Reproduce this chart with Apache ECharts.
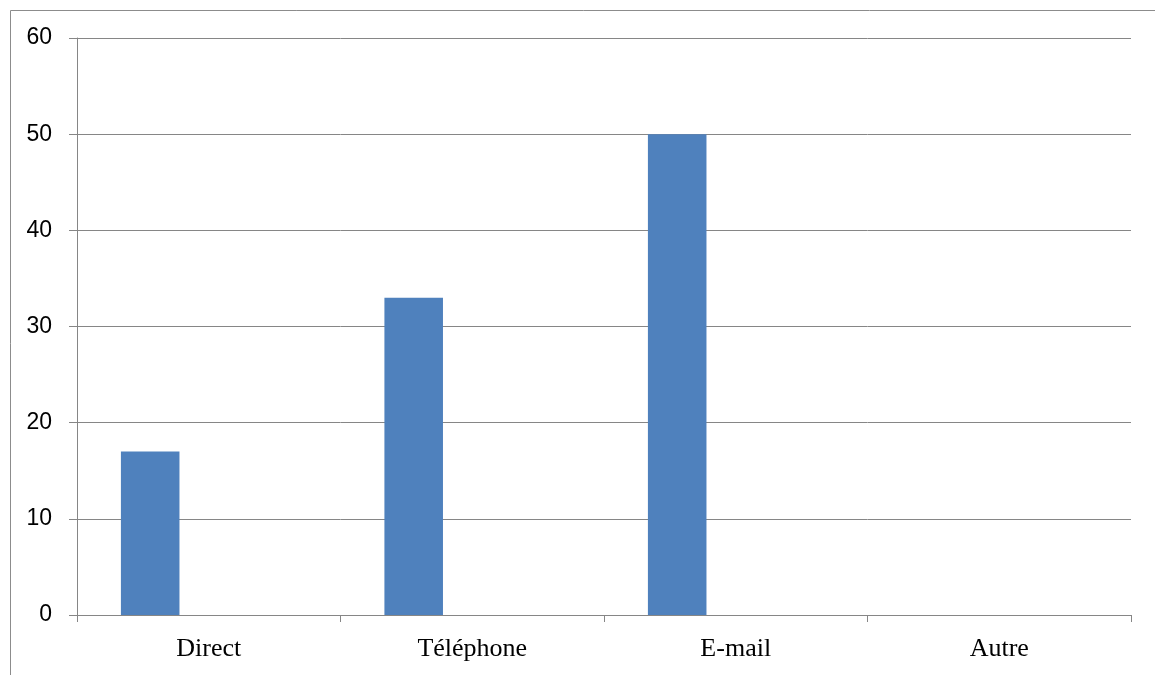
<!DOCTYPE html>
<html>
<head>
<meta charset="utf-8">
<style>
  html, body { margin: 0; padding: 0; background: #ffffff; }
  #chart { width: 1155px; height: 675px; }
</style>
<script src="https://cdn.jsdelivr.net/npm/echarts@6/dist/echarts.min.js"></script>
</head>
<body>
<div id="chart"></div>
<script>
// Contact channels and their counts
const categories = ['Direct', 'Téléphone', 'E-mail', 'Autre'];
const series1 = [17, 33, 50, 0];
const series2 = [null, null, null, null];
const series3 = [null, null, null, null];
const yTicks = { min: 0, max: 60, interval: 10 };

const chart = echarts.init(document.getElementById('chart'), null, { renderer: 'canvas' });

const lineGray = '#868686';
const barStyle = { color: '#4F81BD' };

chart.setOption({
  animation: false,
  backgroundColor: '#ffffff',
  graphic: [{
    type: 'rect',
    left: 8, top: 8,
    shape: { width: 1200, height: 720 },
    style: { fill: 'none', stroke: '#8c8c8c', lineWidth: 1 },
    silent: true
  }],
  grid: { left: 77, right: 24, top: 38, bottom: 60, containLabel: false },
  xAxis: {
    type: 'category',
    data: categories,
    boundaryGap: true,
    axisLine: { show: true, lineStyle: { color: lineGray, width: 1 } },
    axisTick: { show: true, length: 7, lineStyle: { color: lineGray } },
    axisLabel: {
      margin: 21,
      color: '#000000',
      fontFamily: '"Liberation Serif", "Times New Roman", serif',
      fontSize: 26
    },
    splitLine: { show: false }
  },
  yAxis: {
    type: 'value',
    min: yTicks.min, max: yTicks.max, interval: yTicks.interval,
    axisLine: { show: true, lineStyle: { color: lineGray, width: 1 } },
    axisTick: { show: true, inside: false, length: 8, lineStyle: { color: lineGray } },
    axisLabel: {
      margin: 25,
      color: '#000000',
      fontFamily: '"Liberation Sans", Arial, sans-serif',
      fontSize: 23
    },
    splitLine: { show: true, lineStyle: { color: lineGray, width: 1 } }
  },
  series: [
    { type: 'bar', data: series1, itemStyle: barStyle, barGap: '0%', barCategoryGap: '33.33%' },
    { type: 'bar', data: series2, itemStyle: { color: '#C0504D' }, barGap: '0%', barCategoryGap: '33.33%' },
    { type: 'bar', data: series3, itemStyle: { color: '#9BBB59' }, barGap: '0%', barCategoryGap: '33.33%' }
  ]
});
</script>
</body>
</html>
